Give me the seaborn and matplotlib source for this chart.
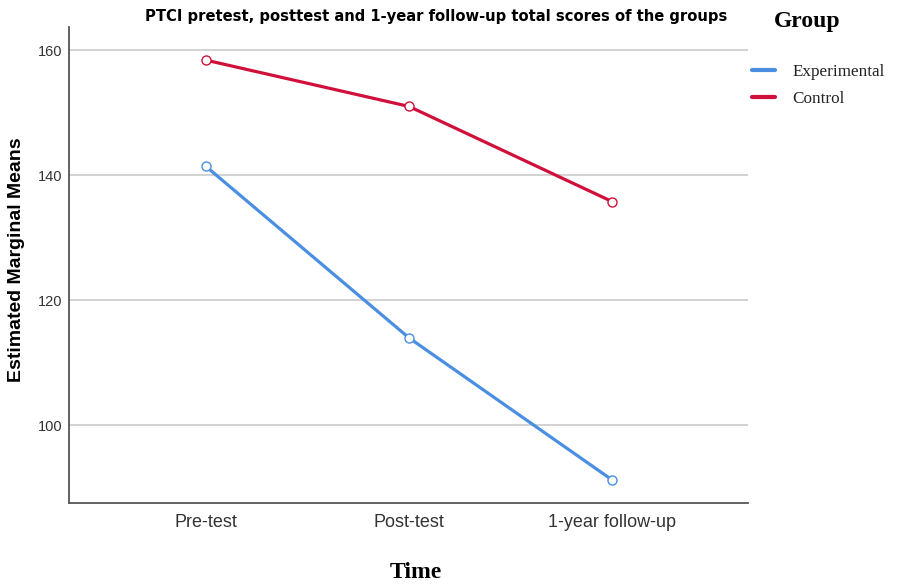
import pandas as pd
import seaborn as sns
import matplotlib.pyplot as plt

# data
times = ["Pre-test", "Post-test", "1-year follow-up"]
experimental = [141.4, 114.0, 91.3]
control = [158.4, 151.0, 135.8]
groups = ["Experimental", "Control"]
colors = {"Experimental": "#4a8fe2", "Control": "#d0103a"}

df = pd.DataFrame({
    "Time": times * 2,
    "Score": experimental + control,
    "Group": [groups[0]] * 3 + [groups[1]] * 3,
})

sns.set_style("white")

fig = plt.figure(figsize=(8.97, 5.87), dpi=100)
ax = fig.add_axes([69 / 897, 84 / 587, 679 / 897, 476 / 587])

sns.lineplot(data=df, x="Time", y="Score", hue="Group", palette=colors,
             marker="o", markersize=6.5, linewidth=2.3, sort=False, ax=ax)
for line in ax.lines:
    line.set_markerfacecolor("white")
    line.set_markeredgecolor(line.get_color())
    line.set_markeredgewidth(1.0)

ax.set_xlim(-0.675, 2.67)
ax.set_ylim(87.6, 163.7)
ax.set_yticks([100, 120, 140, 160])
ax.yaxis.grid(True, color="#cfcfcf", linewidth=1.3)
ax.set_axisbelow(True)
for s in ["top", "right"]:
    ax.spines[s].set_visible(False)
for s in ["left", "bottom"]:
    ax.spines[s].set_color("#555555")
    ax.spines[s].set_linewidth(1.3)
ax.tick_params(axis="both", length=0)
ax.tick_params(axis="x", labelsize=13, pad=8, labelcolor="#333333")
ax.tick_params(axis="y", labelsize=10.5, pad=5, labelcolor="#333333")
for lab in ax.get_xticklabels() + ax.get_yticklabels():
    lab.set_family("Liberation Sans")
ax.set_xlabel("")
ax.set_ylabel("")

fig.text(17 / 897, 1 - 260 / 587, "Estimated Marginal Means", rotation=90,
         ha="center", va="center", fontsize=14, fontweight="bold",
         family="Liberation Sans", color="black")
fig.text(436 / 897, 1 - 17 / 587,
         "PTCI pretest, posttest and 1-year follow-up total scores of the groups",
         ha="center", va="center", fontsize=10.6, fontweight="bold",
         family="DejaVu Sans", color="black")
fig.text(416 / 897, 1 - 573 / 587, "Time", ha="center", va="center",
         fontsize=17, fontweight="bold", family="Liberation Serif", color="black")
fig.text(807 / 897, 1 - 22 / 587, "Group", ha="center", va="center",
         fontsize=17, fontweight="bold", family="Liberation Serif", color="black")

handles, labels = ax.get_legend_handles_labels()
ax.get_legend().remove()
leg = fig.legend(handles, labels, loc="upper left",
                 bbox_to_anchor=(737 / 897, 1 - 49 / 587),
                 frameon=False, handlelength=1.35, handletextpad=1.0,
                 labelspacing=0.6, labelcolor="#222222",
                 prop={"family": "Liberation Serif", "size": 12.3})
for h in leg.legend_handles:
    h.set_marker("")
    h.set_linewidth(3)

fig.savefig("out.png", dpi=100)
